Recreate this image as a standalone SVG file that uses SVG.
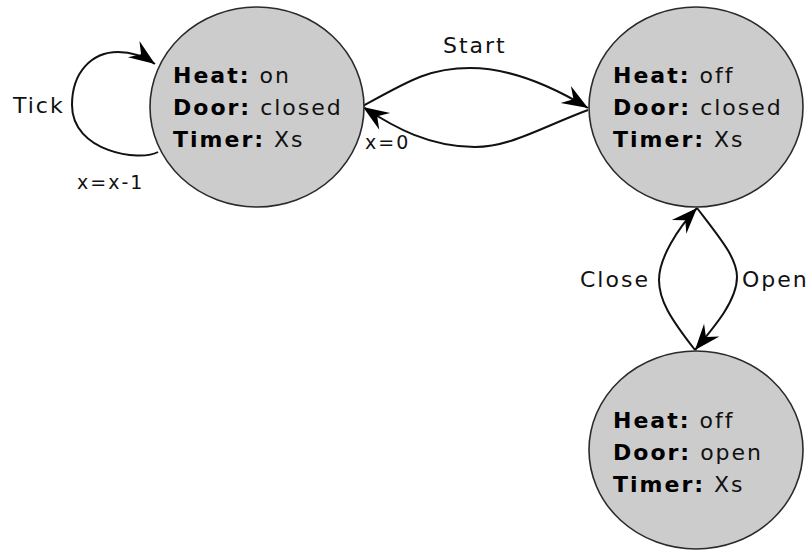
<svg xmlns="http://www.w3.org/2000/svg" width="811" height="552" viewBox="0 0 811 552">
<style>
.node{fill:#cccccc;stroke:#2a2a2a;stroke-width:1.6}
.edge{fill:none;stroke:#111;stroke-width:2}
text{font-family:"DejaVu Sans",sans-serif;font-size:22px;letter-spacing:2px;fill:#111}
.b{font-weight:bold;fill:#000}
.sm{font-size:19px}
</style>
<defs>
<marker id="arr" markerUnits="userSpaceOnUse" viewBox="-27 -12 29 24" markerWidth="29" markerHeight="24" refX="0" refY="0" orient="auto">
<path d="M0,0 L-26,-10 L-17,0 L-26,10 Z" fill="#000"/>
</marker>
</defs>
<rect width="811" height="552" fill="#fff"/>
<g id="connectors">
<path class="edge" marker-end="url(#arr)" d="M158,152 C140,162 72,152 72,105 C72,72 92,52 118,52 C132,52 145,57 155,64"/>
<path class="edge" marker-end="url(#arr)" d="M363,106 C410,80 430,68 470,68 C510,68 550,85 588,108"/>
<path class="edge" marker-end="url(#arr)" d="M588,110 C540,128 510,147 475,147 C430,147 395,128 363,107"/>
<path class="edge" marker-end="url(#arr)" d="M695,350 C670,318 659,300 659,280 C659,258 678,228 697,208"/>
<path class="edge" marker-end="url(#arr)" d="M697,208 C720,238 737,258 737,277 C737,300 716,325 695,350"/>
<text x="13" y="113">Tick</text>
<text class="sm" x="77" y="189">x=x-1</text>
<text x="443" y="53">Start</text>
<text class="sm" x="365" y="149">x=0</text>
<text x="580" y="287">Close</text>
<text x="742" y="287">Open</text>
</g>
<g id="node-on">
<ellipse class="node" cx="257" cy="107" rx="107" ry="100"/>
<text x="173" y="83"><tspan class="b">Heat:</tspan> on</text>
<text x="173" y="115"><tspan class="b">Door:</tspan> closed</text>
<text x="173" y="147"><tspan class="b">Timer:</tspan> Xs</text>
</g>
<g id="node-off-closed">
<ellipse class="node" cx="696" cy="107" rx="107" ry="100"/>
<text x="613" y="83"><tspan class="b">Heat:</tspan> off</text>
<text x="613" y="115"><tspan class="b">Door:</tspan> closed</text>
<text x="613" y="147"><tspan class="b">Timer:</tspan> Xs</text>
</g>
<g id="node-off-open">
<ellipse class="node" cx="696" cy="450" rx="107" ry="99"/>
<text x="613" y="428"><tspan class="b">Heat:</tspan> off</text>
<text x="613" y="460"><tspan class="b">Door:</tspan> open</text>
<text x="613" y="492"><tspan class="b">Timer:</tspan> Xs</text>
</g>
</svg>
